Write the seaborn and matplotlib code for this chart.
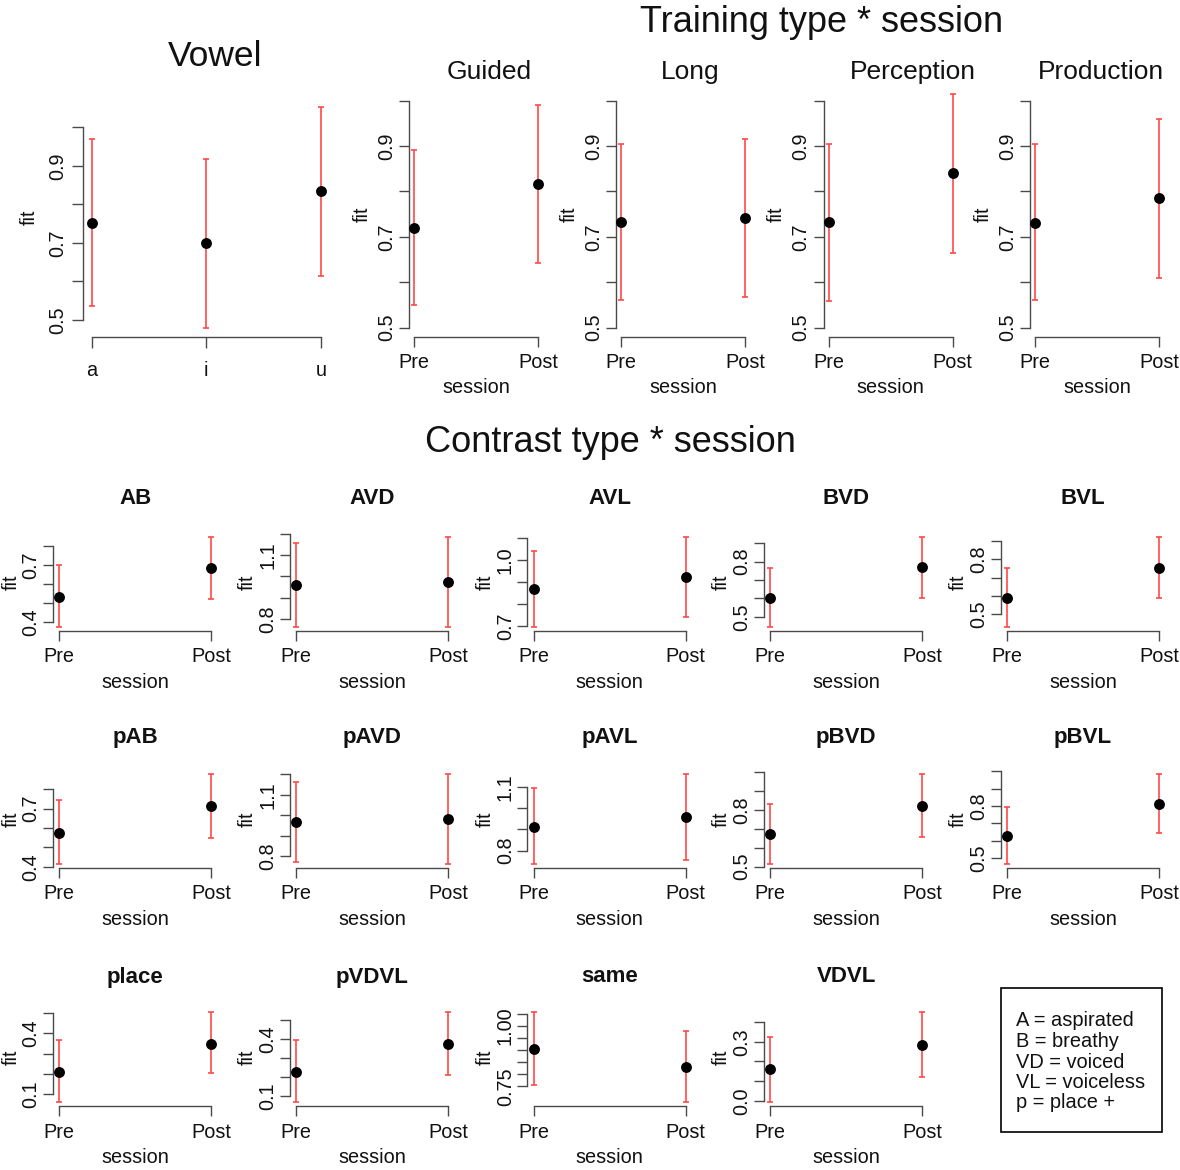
import numpy as np
import pandas as pd
import matplotlib
matplotlib.use("Agg")
import matplotlib.pyplot as plt
from matplotlib.patches import Rectangle
import seaborn as sns

# ---------------- data ----------------
vowels = ["a", "i", "u"]
vowel_fit = [0.751, 0.699, 0.834]
vowel_lower = [0.535, 0.479, 0.614]
vowel_upper = [0.969, 0.919, 1.054]

sessions = ["Pre", "Post"]

training_types = ["Guided", "Long", "Perception", "Production"]
training_pre_fit = [0.720, 0.732, 0.733, 0.731]
training_pre_lower = [0.549, 0.561, 0.558, 0.560]
training_pre_upper = [0.891, 0.905, 0.905, 0.905]
training_post_fit = [0.816, 0.741, 0.840, 0.785]
training_post_lower = [0.642, 0.568, 0.664, 0.609]
training_post_upper = [0.991, 0.916, 1.015, 0.960]
training_ylim = (0.48, 1.02)
training_ticks = [0.5, 0.6, 0.7, 0.8, 0.9, 1.0]

contrast_types = ["AB", "AVD", "AVL", "BVD", "BVL",
                  "pAB", "pAVD", "pAVL", "pBVD", "pBVL",
                  "place", "pVDVL", "same", "VDVL"]
contrast_pre_fit = [0.532, 0.960, 0.868, 0.600, 0.591,
                    0.576, 0.966, 0.913, 0.672, 0.628,
                    0.211, 0.227, 0.903, 0.160]
contrast_pre_lower = [0.372, 0.764, 0.695, 0.444, 0.431,
                      0.414, 0.768, 0.736, 0.513, 0.466,
                      0.059, 0.066, 0.755, -0.008]
contrast_pre_upper = [0.698, 1.156, 1.042, 0.764, 0.755,
                      0.743, 1.162, 1.096, 0.834, 0.795,
                      0.366, 0.392, 1.056, 0.325]
contrast_post_fit = [0.686, 0.973, 0.922, 0.772, 0.755,
                     0.714, 0.981, 0.957, 0.819, 0.810,
                     0.349, 0.373, 0.828, 0.283]
contrast_post_lower = [0.518, 0.764, 0.741, 0.604, 0.587,
                       0.550, 0.760, 0.756, 0.655, 0.643,
                       0.202, 0.208, 0.684, 0.121]
contrast_post_upper = [0.848, 1.185, 1.106, 0.935, 0.922,
                       0.879, 1.203, 1.163, 0.992, 0.986,
                       0.505, 0.540, 0.980, 0.451]
contrast_tick_start = [0.4, 0.8, 0.7, 0.5, 0.5, 0.4, 0.8, 0.8, 0.5, 0.5,
                       0.1, 0.1, 0.75, 0.0]
contrast_tick_stop = [0.8, 1.2, 1.1, 0.9, 0.9, 0.8, 1.2, 1.1, 1.0, 1.0,
                      0.5, 0.5, 1.05, 0.4]
contrast_tick_step = [0.1] * 12 + [0.05, 0.1]
contrast_label_every = [3] * 12 + [5, 3]

abbreviations = ["A = aspirated", "B = breathy", "VD = voiced",
                 "VL = voiceless", "p = place +"]

# ---------------- style ----------------
sns.set_theme(style="ticks")
plt.rcParams["font.family"] = ["Liberation Sans", "DejaVu Sans"]
plt.rcParams["axes.linewidth"] = 1.0

W, H = 1180, 1170
RED = "#ff4848"
AXC = "#4a4a4a"
TXT = "#111111"
TICK_FS = 14.3

fig = plt.figure(figsize=(W / 100, H / 100), dpi=100)
fig.patch.set_facecolor("white")


def px_axes(left, bottom, width, height):
    """Axes placed by pixel coordinates measured from the top-left corner."""
    return fig.add_axes([left / W, 1 - bottom / H, width / W, height / H])


def padded(lo, hi, frac=0.04):
    r = hi - lo
    return lo - frac * r, hi + frac * r


def draw_panel(ax, cats, fit, lower, upper, ylim, ticks, label_every,
               decimals, xlabel, xpad=5.0, ypad=2.5, ylabelpad=4.0,
               ticklen=7.0):
    n = len(cats)
    fit = np.asarray(fit, float)
    lower = np.asarray(lower, float)
    upper = np.asarray(upper, float)
    xpos = np.arange(n)
    ax.errorbar(xpos, fit, yerr=[fit - lower, upper - fit], fmt="none",
                ecolor=RED, elinewidth=1.2, capsize=2.5, capthick=1.2,
                zorder=1.5, clip_on=False)
    df = pd.DataFrame({"category": cats, "fit": fit})
    sns.pointplot(data=df, x="category", y="fit", order=cats, color="black",
                  linestyle="none", markers="o", markersize=5.8,
                  errorbar=None, ax=ax, zorder=3)
    pad = 0.04 * (n - 1)
    ax.set_xlim(-pad, n - 1 + pad)
    ax.set_ylim(*ylim)
    for c in ax.collections + ax.lines:
        c.set_clip_on(False)
    ax.set_facecolor("none")
    ax.spines["top"].set_visible(False)
    ax.spines["right"].set_visible(False)
    for s in ("left", "bottom"):
        ax.spines[s].set_color(AXC)
        ax.spines[s].set_linewidth(1.0)
    ax.spines["left"].set_bounds(ticks[0], ticks[-1])
    ax.spines["bottom"].set_bounds(0, n - 1)
    labels = [f"{t:.{decimals}f}" if i % label_every == 0 else ""
              for i, t in enumerate(ticks)]
    ax.set_yticks(ticks, labels)
    ax.set_xticks(xpos, cats)
    ax.tick_params(axis="both", direction="out", length=ticklen, width=1.0,
                   color=AXC, labelsize=TICK_FS, labelcolor=TXT)
    ax.tick_params(axis="y", pad=ypad)
    ax.tick_params(axis="x", pad=xpad)
    for lab in ax.get_yticklabels():
        lab.set_rotation(90)
        lab.set_va("center")
        lab.set_ha("right")
    ax.set_ylabel("fit", fontsize=TICK_FS, color=TXT, labelpad=ylabelpad)
    ax.set_xlabel(xlabel, fontsize=TICK_FS, color=TXT, labelpad=4.5)
    ax.grid(False)


def ticks_from(start, stop, step):
    k = int(round((stop - start) / step))
    return [round(start + i * step, 4) for i in range(k + 1)]


# ---------------- Vowel ----------------
ax = px_axes(82.5, 336.7, 247.5, 239.0)
draw_panel(ax, vowels, vowel_fit, vowel_lower, vowel_upper,
           padded(min(vowel_lower), max(vowel_upper)),
           [0.5, 0.6, 0.7, 0.8, 0.9, 1.0], 2, 1, "",
           xpad=10.0, ypad=3.5, ylabelpad=6.5, ticklen=7.8)

# ---------------- Training type * session ----------------
train_pre_x = [414.0, 621.0, 828.7, 1035.0]
for j, name in enumerate(training_types):
    ax = px_axes(train_pre_x[j] - 0.04 * 124, 336.7, 1.08 * 124,
                 (training_ylim[1] - training_ylim[0]) * 454)
    draw_panel(ax, sessions,
               [training_pre_fit[j], training_post_fit[j]],
               [training_pre_lower[j], training_post_lower[j]],
               [training_pre_upper[j], training_post_upper[j]],
               training_ylim, training_ticks, 2, 1, "session",
               xpad=4.5)

# ---------------- Contrast type * session ----------------
contrast_pre_x = [59.3, 296.0, 533.5, 770.2, 1007.0]
contrast_row_y = [630.7, 867.7, 1106.0]
for k, name in enumerate(contrast_types):
    r, c = divmod(k, 5)
    ax = px_axes(contrast_pre_x[c] - 0.04 * 152, contrast_row_y[r],
                 1.08 * 152, 97.5)
    lo = min(contrast_pre_lower[k], contrast_post_lower[k])
    hi = max(contrast_pre_upper[k], contrast_post_upper[k])
    step = contrast_tick_step[k]
    draw_panel(ax, sessions,
               [contrast_pre_fit[k], contrast_post_fit[k]],
               [contrast_pre_lower[k], contrast_post_lower[k]],
               [contrast_pre_upper[k], contrast_post_upper[k]],
               padded(lo, hi),
               ticks_from(contrast_tick_start[k], contrast_tick_stop[k], step),
               contrast_label_every[k], 2 if step < 0.1 else 1, "session",
               ypad=2.0, ylabelpad=1.0)
    fig.text((contrast_pre_x[c] + 76) / W, 1 - (498 + 239.5 * r) / H, name,
             ha="center", va="center", fontsize=16, fontweight="bold",
             color=TXT)

# ---------------- titles ----------------
fig.text(215 / W, 1 - 57 / H, "Vowel", ha="center", va="center",
         fontsize=25.5, color=TXT)
fig.text(822 / W, 1 - 22 / H, "Training type * session", ha="center",
         va="center", fontsize=26, color=TXT)
for name, xc in zip(training_types, [489, 690, 913, 1101]):
    fig.text(xc / W, 1 - 72 / H, name, ha="center", va="center",
             fontsize=19, color=TXT)
fig.text(610 / W, 1 - 442 / H, "Contrast type * session", ha="center",
         va="center", fontsize=26, color=TXT)

# ---------------- abbreviation key ----------------
fig.add_artist(Rectangle((1001 / W, 1 - 1132 / H), 161 / W, 144 / H,
                         transform=fig.transFigure, fill=False,
                         edgecolor="black", linewidth=1.2))
for i, line in enumerate(abbreviations):
    fig.text(1016 / W, 1 - (1021 + 20.5 * i) / H, line, ha="left",
             va="center", fontsize=14.4, color=TXT)

fig.savefig("out.png", dpi=100, facecolor="white")
